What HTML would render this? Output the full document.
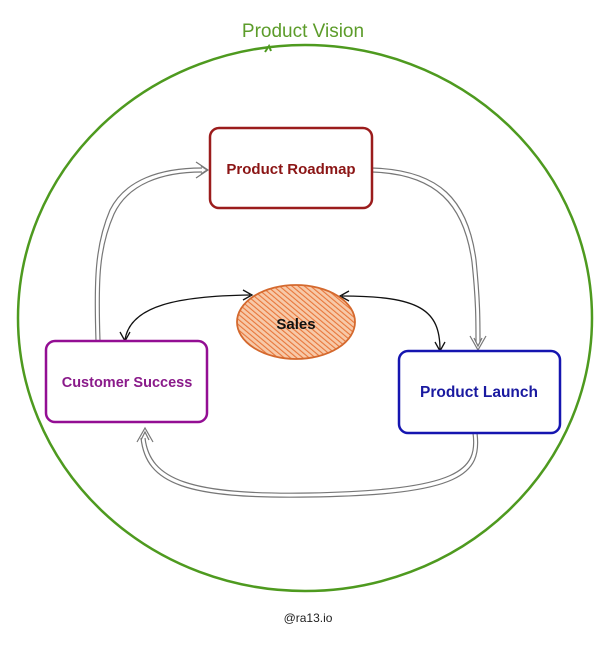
<!DOCTYPE html>
<html><head><style>body{margin:0;background:#fff}svg{display:block}</style></head><body>
<svg width="615" height="654" viewBox="0 0 615 654" xmlns="http://www.w3.org/2000/svg" font-family="Liberation Sans, sans-serif">
<defs>
<pattern id="h" width="4" height="4" patternUnits="userSpaceOnUse" patternTransform="rotate(-50)"><rect width="4" height="4" fill="#f7c9a8"/><line x1="0" y1="0" x2="0" y2="4" stroke="#e8763a" stroke-width="2.2"/></pattern>
</defs>
<ellipse cx="305" cy="318" rx="287" ry="273" fill="none" stroke="#4e9a1f" stroke-width="2.5"/>
<path d="M265 52 l4 -6 l2 5" fill="none" stroke="#4e9a1f" stroke-width="2"/>
<text x="303" y="37" font-size="19" fill="#5c9c2a" text-anchor="middle">Product Vision</text>
<g fill="none" stroke="#777" stroke-width="1.2">
<path d="M96 341 C94 280 95 245 110 210 C125 180 160 168 202 168"/>
<path d="M100 341 C98 280 99 248 114 214 C128 184 162 172 202 172"/>
<path d="M196 162 l12 8 l-12 8 M201 166 l6 4 l-6 4"/>
<path d="M372 168 C440 170 468 200 476 260 C480 300 480 320 480 342"/>
<path d="M372 172 C436 174 464 204 472 262 C476 300 476 320 476 342"/>
<path d="M470 336 l8 14 l8 -14 M474 338 l4 8 l4 -8"/>
<path d="M473 433 C478 470 460 490 310 493 C190 495 150 480 145 438"/>
<path d="M477 433 C482 474 462 495 310 497 C186 499 146 484 141 438"/>
<path d="M137 442 l8 -14 l8 14 M141 440 l4 -8 l4 8"/>
</g>
<g fill="none" stroke="#111" stroke-width="1.3">
<path d="M125 340 C130 305 180 296 250 295"/>
<path d="M243 290 l9 5 l-9 5 M120 332 l5 9 l5 -9"/>
<path d="M342 296 C420 296 440 310 440 350"/>
<path d="M349 291 l-9 5 l9 5 M435 342 l5 9 l5 -9"/>
</g>
<ellipse cx="296" cy="322" rx="59" ry="37" fill="url(#h)" stroke="#d4692e" stroke-width="1.8"/>
<text x="296" y="329" font-size="15" font-weight="bold" text-anchor="middle" fill="#111">Sales</text>
<rect x="210" y="128" width="162" height="80" rx="9" fill="#fff" stroke="#9b1c1c" stroke-width="2.5"/>
<text x="291" y="174" font-size="15" font-weight="bold" text-anchor="middle" fill="#8b1515">Product Roadmap</text>
<rect x="46" y="341" width="161" height="81" rx="9" fill="#fff" stroke="#930e93" stroke-width="2.5"/>
<text x="127" y="387" font-size="14.5" font-weight="bold" text-anchor="middle" fill="#8a1a8a">Customer Success</text>
<rect x="399" y="351" width="161" height="82" rx="9" fill="#fff" stroke="#1515b0" stroke-width="2.5"/>
<text x="479" y="397" font-size="15.5" font-weight="bold" text-anchor="middle" fill="#1a1aa0">Product Launch</text>
<text x="308" y="622" font-size="12" text-anchor="middle" fill="#222">@ra13.io</text>
</svg>
</body></html>
